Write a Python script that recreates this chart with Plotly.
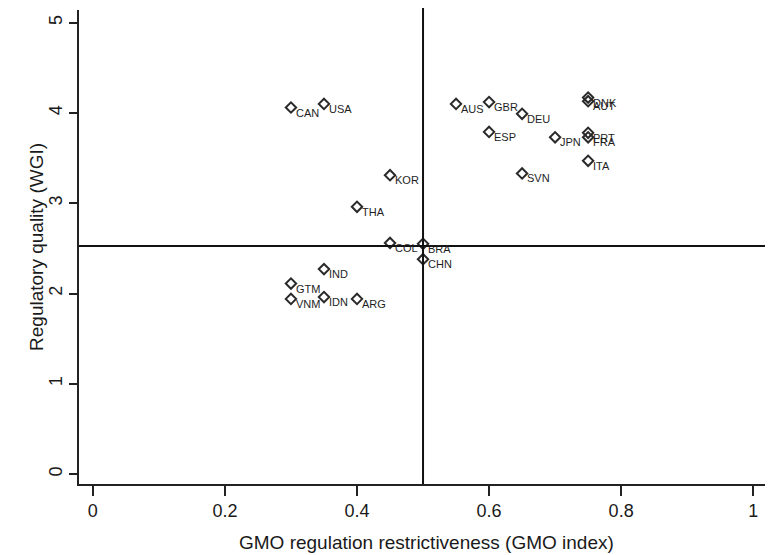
import plotly.graph_objects as go

countries = ["CAN", "USA", "KOR", "THA", "COL", "BRA", "CHN", "IND", "GTM", "VNM", "IDN", "ARG",
             "AUS", "GBR", "ESP", "DEU", "SVN", "JPN", "DNK", "AUT", "PRT", "FRA", "ITA"]
gmo_index = [0.30, 0.35, 0.45, 0.40, 0.45, 0.50, 0.50, 0.35, 0.30, 0.30, 0.35, 0.40,
             0.55, 0.60, 0.60, 0.65, 0.65, 0.70, 0.75, 0.75, 0.75, 0.75, 0.75]
wgi = [4.06, 4.10, 3.31, 2.96, 2.56, 2.55, 2.38, 2.27, 2.11, 1.94, 1.96, 1.94,
       4.10, 4.12, 3.79, 3.99, 3.33, 3.73, 4.17, 4.13, 3.78, 3.73, 3.47]

x_threshold = 0.5
y_threshold = 2.525

x_ticks = [0, 0.2, 0.4, 0.6, 0.8, 1]
x_ticklabels = ["0", "0.2", "0.4", "0.6", "0.8", "1"]
y_ticks = [0, 1, 2, 3, 4, 5]

x_title = "GMO regulation restrictiveness (GMO index)"
y_title = "Regulatory quality (WGI)"

font_family = "Liberation Sans, Arial, sans-serif"

fig = go.Figure()
fig.add_trace(go.Scatter(
    x=gmo_index, y=wgi, mode="markers",
    marker=dict(symbol="diamond-open", size=8, color="#2a2a2a", line=dict(width=2, color="#2a2a2a")),
    showlegend=False, hoverinfo="text", text=countries,
))

for c, xv, yv in zip(countries, gmo_index, wgi):
    fig.add_annotation(x=xv, y=yv, text=c, showarrow=False, xanchor="left", yanchor="middle",
                       xshift=3, yshift=-5, font=dict(size=11, color="#1e1e1e", family=font_family))

fig.add_shape(type="line", xref="x", yref="paper", x0=x_threshold, x1=x_threshold, y0=0, y1=1.004,
              line=dict(color="#111111", width=2))
fig.add_shape(type="line", xref="paper", yref="y", x0=0, x1=1, y0=y_threshold, y1=y_threshold,
              line=dict(color="#111111", width=2))

# axis titles
fig.add_annotation(xref="paper", yref="paper", x=0.5, y=-0.124, text=x_title, showarrow=False,
                   xanchor="center", yanchor="middle", font=dict(size=19, color="#1a1a1a"))
fig.add_annotation(xref="paper", yref="paper", x=-0.062, y=0.5, text=y_title, showarrow=False,
                   textangle=-90, xanchor="center", yanchor="middle", font=dict(size=19, color="#1a1a1a"))

# page body has an 8px default margin, so the figure is sized to fit the 773x555 window
fig.update_layout(
    width=765, height=547,
    margin=dict(l=71, r=0, t=2, b=71),
    paper_bgcolor="white", plot_bgcolor="white",
    font=dict(family=font_family, color="#1a1a1a"),
    xaxis=dict(range=[-0.021, 1.03], tickvals=x_ticks, ticktext=x_ticklabels, automargin=False,
               showgrid=False, zeroline=False, showline=True, linecolor="#222222", linewidth=1.5,
               ticks="outside", ticklen=10, tickwidth=1.5, tickcolor="#222222",
               tickfont=dict(size=18)),
    yaxis=dict(range=[-0.11, 5.14], tickvals=y_ticks, tickangle=-90, automargin=False,
               showgrid=False, zeroline=False, showline=True, linecolor="#222222", linewidth=1.5,
               ticks="outside", ticklen=8, tickwidth=1.5, tickcolor="#222222",
               tickfont=dict(size=18)),
)

fig.write_html("out.html")
